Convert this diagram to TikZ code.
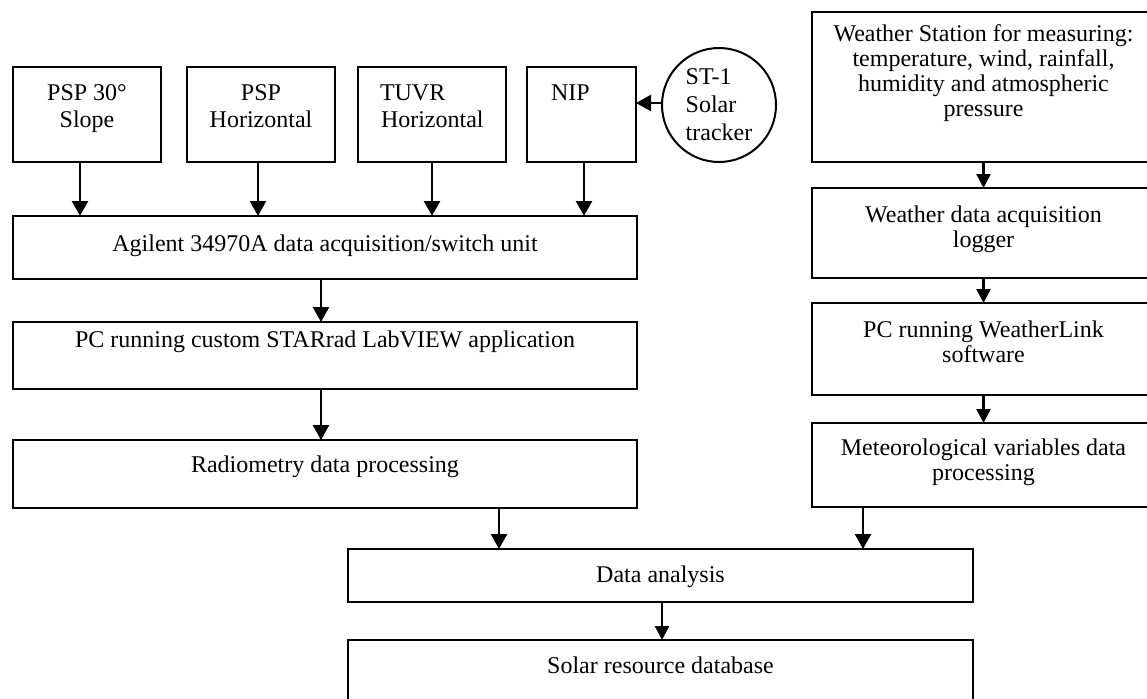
\documentclass[tikz,border=0pt]{standalone}
\usepackage{fontspec}
\setmainfont{Liberation Serif}
\usetikzlibrary{arrows.meta}
\newcommand{\tb}[5]{\parbox[t][#2pt][t]{#1pt}{#4\rule{0pt}{#3pt}#5}}
\tikzset{
  box/.style={draw, line width=2pt, inner sep=0pt, outer sep=0pt, anchor=north west, rectangle},
  lfont/.style={font=\fontsize{24}{28}\selectfont},
  rfont/.style={font=\fontsize{24}{25}\selectfont},
  arr/.style={line width=2.4pt, -{Triangle[length=15pt,width=16pt]}},
  sarr/.style={line width=2.4pt, -{Triangle[length=14pt,width=14pt]}}
}
\begin{document}
\begin{tikzpicture}[x=1pt, y=-1pt]
\clip (0,0) rectangle (1147,698);
% top row
\node[box, lfont] (psp30) at (13,67) {\tb{148}{95}{33}{\centering}{PSP 30°\\Slope}};
\node[box, lfont] (psph) at (187,67) {\tb{148}{95}{33}{\centering}{PSP\\Horizontal}};
\node[box, lfont] (tuvr) at (358,67) {\tb{148}{95}{33}{\raggedright}{\hspace*{22pt}TUVR\\\hspace*{23pt}Horizontal}};
\node[box, lfont] (nip) at (527,67) {\tb{109}{95}{33}{\raggedright}{\hspace*{24pt}NIP}};
\node[circle, draw, line width=2pt, minimum size=114pt, inner sep=0pt, outer sep=0pt, align=left, font=\fontsize{24}{28}\selectfont] (st1) at (719,105) {ST-1\\Solar\\tracker};
% left column
\node[box, lfont] (agilent) at (13,216) {\tb{624}{63}{35}{\centering}{Agilent 34970A data acquisition/switch unit}};
\node[box, lfont] (pc) at (13,322) {\tb{624}{67}{25}{\centering}{PC running custom STARrad LabVIEW application}};
\node[box, lfont] (radio) at (13,440) {\tb{624}{68}{32}{\centering}{Radiometry data processing}};
% right column
\node[box, rfont] (ws) at (812,12) {\tb{343}{150}{30}{\centering}{Weather Station for measuring:\\temperature, wind, rainfall,\\humidity and atmospheric\\pressure}};
\node[box, rfont] (logger) at (812,188) {\tb{343}{90}{34}{\centering}{Weather data acquisition\\logger}};
\node[box, rfont] (pcwl) at (812,303) {\tb{343}{92}{34}{\centering}{PC running WeatherLink\\software}};
\node[box, rfont] (met) at (812,423) {\tb{343}{84}{32}{\centering}{Meteorological variables data\\processing}};
% bottom
\node[box, lfont] (data) at (348,549) {\tb{625}{53}{33}{\centering}{Data analysis}};
\node[box, lfont] (solar) at (348,640) {\tb{625}{64}{33}{\centering}{Solar resource database}};
% connectors
\draw[arr] ([xshift=-7pt]psp30.south) -- ([xshift=-7pt]psp30.south |- agilent.north);
\draw[arr] ([xshift=-3pt]psph.south) -- ([xshift=-3pt]psph.south |- agilent.north);
\draw[arr] (tuvr.south) -- (tuvr.south |- agilent.north);
\draw[arr] ([xshift=2.5pt]nip.south) -- ([xshift=2.5pt]nip.south |- agilent.north);
\draw[arr] ([yshift=2pt]st1.west) -- ([yshift=2pt]st1.west -| nip.east);
\draw[arr] ([xshift=-4pt]agilent.south) -- ([xshift=-4pt]agilent.south |- pc.north);
\draw[arr] ([xshift=-4pt]pc.south) -- ([xshift=-4pt]pc.south |- radio.north);
\draw[sarr] (ws.south) -- (logger.north);
\draw[sarr] (logger.south) -- (pcwl.north);
\draw[sarr] (pcwl.south) -- (met.north);
\draw[arr] ([xshift=-161.5pt]data.north |- radio.south) -- ([xshift=-161.5pt]data.north);
\draw[arr] ([xshift=-120.5pt]met.south) -- ([xshift=-120.5pt]met.south |- data.north);
\draw[sarr] ([xshift=1.5pt]data.south) -- ([xshift=1.5pt]solar.north);
\end{tikzpicture}
\end{document}
